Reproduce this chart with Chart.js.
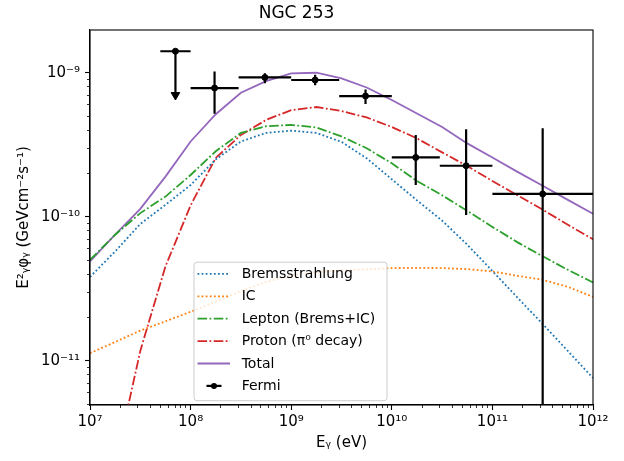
<!DOCTYPE html>
<html>
<head>
<meta charset="utf-8">
<script src="https://cdn.jsdelivr.net/npm/chart.js@4.4.1/dist/chart.umd.min.js"></script>
<style>
  body { margin: 0; background: #fff; }
  canvas { display: block; }
</style>
</head>
<body>
<canvas id="chart" width="624" height="461"></canvas>
<script>
// model curves, sampled every quarter decade
const energy = [1e7, 1.778e7, 3.162e7, 5.623e7, 1e8, 1.778e8, 3.162e8, 5.623e8, 1e9, 1.778e9, 3.162e9,
                5.623e9, 1e10, 1.778e10, 3.162e10, 5.623e10, 1e11, 1.778e11, 3.162e11, 5.623e11, 1e12];
const brems = [3.82e-11, 5.75e-11, 8.9e-11, 1.21e-10, 1.66e-10, 2.5e-10, 3.33e-10, 3.82e-10, 3.96e-10, 3.82e-10, 3.31e-10,
               2.55e-10, 1.82e-10, 1.3e-10, 9.4e-11, 6.4e-11, 4.2e-11, 2.74e-11, 1.8e-11, 1.17e-11, 7.6e-12];
const ic = [1.13e-11, 1.35e-11, 1.62e-11, 1.88e-11, 2.19e-11, 2.57e-11, 3.05e-11, 3.52e-11, 3.93e-11, 4.12e-11, 4.25e-11,
            4.31e-11, 4.4e-11, 4.42e-11, 4.4e-11, 4.33e-11, 4.17e-11, 3.89e-11, 3.65e-11, 3.26e-11, 2.78e-11];
const lepton = [5.02e-11, 7.5e-11, 1.06e-10, 1.38e-10, 1.95e-10, 2.85e-10, 3.82e-10, 4.25e-10, 4.34e-10, 4.17e-10, 3.61e-10,
                2.99e-10, 2.35e-10, 1.77e-10, 1.41e-10, 1.1e-10, 8.5e-11, 6.64e-11, 5.31e-11, 4.28e-11, 3.5e-11];
const proton = [2.5e-13, 1.9e-12, 1.17e-11, 4.52e-11, 1.2e-10, 2.56e-10, 3.7e-10, 4.7e-10, 5.5e-10, 5.78e-10, 5.42e-10,
                4.89e-10, 4.2e-10, 3.5e-10, 2.8e-10, 2.25e-10, 1.77e-10, 1.41e-10, 1.12e-10, 8.8e-11, 6.97e-11];
const total = [4.9e-11, 7.5e-11, 1.135e-10, 1.9e-10, 3.33e-10, 5.15e-10, 7.26e-10, 8.75e-10, 9.9e-10, 1.0e-9, 9.15e-10,
               7.9e-10, 6.47e-10, 5.21e-10, 4.2e-10, 3.23e-10, 2.58e-10, 2.05e-10, 1.64e-10, 1.31e-10, 1.05e-10];

// Fermi points
const fermiE = [7.07e7, 1.73e8, 5.48e8, 1.73e9, 5.48e9, 1.73e10, 5.48e10, 3.16e11];
const fermiELow = [5e7, 1e8, 3e8, 1e9, 3e9, 1e10, 3e10, 1e11];
const fermiEHigh = [1e8, 3e8, 1e9, 3e9, 1e10, 3e10, 1e11, 1e12];
const fermiFlux = [1.41e-9, 7.83e-10, 9.27e-10, 8.9e-10, 6.89e-10, 2.58e-10, 2.26e-10, 1.44e-10];
const fermiFluxLow = [7.0e-10, 5.18e-10, 8.44e-10, 8.17e-10, 6.07e-10, 1.66e-10, 1.03e-10, 1e-12];
const fermiFluxHigh = [1.41e-9, 1.02e-9, 9.9e-10, 9.7e-10, 7.66e-10, 3.7e-10, 4.05e-10, 4.11e-10];
const fermiUpperLimit = [true, false, false, false, false, false, false, false];

const seriesLabels = ['Bremsstrahlung', 'IC', 'Lepton (Brems+IC)', 'Proton (\u03c0\u2070 decay)', 'Total', 'Fermi'];

const xMajorTicks = [1e7, 1e8, 1e9, 1e10, 1e11, 1e12];
const xTickLabels = ['10\u2077', '10\u2078', '10\u2079', '10\u00b9\u2070', '10\u00b9\u00b9', '10\u00b9\u00b2'];
const yMajorTicks = [1e-11, 1e-10, 1e-9];
const yTickLabels = ['10\u207b\u00b9\u00b9', '10\u207b\u00b9\u2070', '10\u207b\u2079'];
const xMin = 1e7, xMax = 1e12;
const yMin = 4.93e-12, yMax = 1.98e-9;

function minorTicks(min, max) {
  const out = [];
  for (let e = Math.floor(Math.log10(min)); e <= Math.ceil(Math.log10(max)); e++) {
    for (let m = 2; m <= 9; m++) {
      const v = m * Math.pow(10, e);
      if (v >= min && v <= max) out.push({value: v});
    }
  }
  return out;
}

const FONT = 'DejaVu Sans';
const dotted = [1.8, 2.3];
const dashdot = [9.6, 2.4, 1.8, 2.4];

function curve(label, values, color, dash) {
  return {
    label: label,
    data: energy.map((e, i) => ({x: e, y: values[i]})),
    borderColor: color,
    borderWidth: 1.8,
    borderDash: dash,
    pointRadius: 0,
    tension: 0,
    fill: false,
    order: 2
  };
}

const xErr = [];
const yErr = [];
fermiE.forEach((e, i) => {
  xErr.push({x: fermiELow[i], y: fermiFlux[i]}, {x: fermiEHigh[i], y: fermiFlux[i]}, {x: e, y: null});
  yErr.push({x: e, y: fermiFluxLow[i]}, {x: e, y: fermiFluxHigh[i]}, {x: e, y: null});
});

const datasets = [
  curve(seriesLabels[0], brems, '#1f77b4', dotted),
  curve(seriesLabels[1], ic, '#ff7f0e', dotted),
  curve(seriesLabels[2], lepton, '#2ca02c', dashdot),
  curve(seriesLabels[3], proton, '#d62728', dashdot),
  curve(seriesLabels[4], total, '#9467bd', []),
  {label: 'xerr', data: xErr, borderColor: '#000', borderWidth: 2.2, pointRadius: 0, spanGaps: false, order: 1},
  {label: 'yerr', data: yErr, borderColor: '#000', borderWidth: 2.2, pointRadius: 0, spanGaps: false, order: 1},
  {label: seriesLabels[5], data: fermiE.map((e, i) => ({x: e, y: fermiFlux[i]})), showLine: false,
   pointRadius: 3, pointBackgroundColor: '#000', pointBorderColor: '#000', borderColor: '#000', order: 0},
  {label: 'ul', data: fermiE.map((e, i) => ({x: e, y: fermiUpperLimit[i] ? fermiFluxLow[i] : null})), showLine: false,
   pointStyle: 'triangle', rotation: 180, pointRadius: 5, pointBackgroundColor: '#000', pointBorderColor: '#000',
   pointBorderWidth: 1, order: 0}
];

const frameAndLegend = {
  id: 'frameAndLegend',
  afterDraw(chart) {
    const {ctx, chartArea: a} = chart;
    ctx.save();
    ctx.strokeStyle = '#000';
    ctx.lineWidth = 1.1;
    ctx.strokeRect(a.left, a.top, a.right - a.left, a.bottom - a.top);

    const w = 193, h = 138.5;
    const x0 = a.left + 104, y0 = a.bottom - 4.3 - h;
    ctx.beginPath();
    ctx.roundRect(x0, y0, w, h, 3);
    ctx.fillStyle = 'rgba(255,255,255,0.8)';
    ctx.fill();
    ctx.strokeStyle = '#cccccc';
    ctx.lineWidth = 1;
    ctx.stroke();

    ctx.font = '14px "' + FONT + '"';
    ctx.textBaseline = 'middle';
    ctx.textAlign = 'left';
    seriesLabels.forEach((lab, i) => {
      const y = y0 + 11.7 + i * 22.4;
      const ds = chart.data.datasets.find(d => d.label === lab);
      if (i < 5) {
        ctx.strokeStyle = ds.borderColor;
        ctx.lineWidth = ds.borderWidth;
        ctx.setLineDash(ds.borderDash);
        ctx.beginPath();
        ctx.moveTo(x0 + 3.5, y);
        ctx.lineTo(x0 + 36, y);
        ctx.stroke();
        ctx.setLineDash([]);
      } else {
        ctx.strokeStyle = '#000';
        ctx.lineWidth = 2.2;
        ctx.beginPath();
        ctx.moveTo(x0 + 12.5, y);
        ctx.lineTo(x0 + 27.5, y);
        ctx.stroke();
        ctx.beginPath();
        ctx.arc(x0 + 20, y, 3, 0, Math.PI * 2);
        ctx.fillStyle = '#000';
        ctx.fill();
      }
      ctx.fillStyle = '#000';
      ctx.fillText(lab, x0 + 47.7, y + 0.5);
    });
    ctx.restore();
  }
};

const tickFont = {family: FONT, size: 14};

new Chart(document.getElementById('chart').getContext('2d'), {
  type: 'line',
  data: {datasets: datasets},
  plugins: [frameAndLegend],
  options: {
    responsive: false,
    devicePixelRatio: 1,
    animation: false,
    layout: {padding: {top: 0, right: 31, bottom: 0, left: 0}},
    plugins: {
      legend: {display: false},
      tooltip: {enabled: false},
      title: {
        display: true,
        text: 'NGC 253',
        color: '#000',
        font: {family: FONT, size: 17, weight: 'normal'},
        padding: {top: 3, bottom: 6.6}
      }
    },
    scales: {
      x: {
        type: 'logarithmic',
        position: 'bottom',
        min: xMin,
        max: xMax,
        afterBuildTicks: s => { s.ticks = xMajorTicks.map(v => ({value: v})); },
        afterFit: s => { s.height = 56; },
        ticks: {autoSkip: false, maxRotation: 0, padding: 3, color: '#000', font: {family: FONT, size: 15},
                callback: (v, i) => xTickLabels[i]},
        grid: {drawOnChartArea: false, tickLength: 5, tickWidth: 1.1, tickColor: '#000'},
        border: {color: '#000', width: 1.1},
        title: {display: true, text: 'E\u1d67 (eV)', color: '#000', font: {family: FONT, size: 15},
                padding: {top: 0, bottom: 9}}
      },
      xMinor: {
        type: 'logarithmic',
        axis: 'x',
        position: {y: yMin},
        min: xMin,
        max: xMax,
        afterBuildTicks: s => { s.ticks = minorTicks(xMin, xMax); },
        ticks: {display: false},
        grid: {drawOnChartArea: false, tickLength: 3, tickWidth: 0.8, tickColor: '#000'},
        border: {display: false}
      },
      y: {
        type: 'logarithmic',
        position: 'left',
        min: yMin,
        max: yMax,
        afterBuildTicks: s => { s.ticks = yMajorTicks.map(v => ({value: v})); },
        afterFit: s => { s.width = 90; },
        ticks: {autoSkip: false, padding: 5, color: '#000', font: {family: FONT, size: 15},
                callback: (v, i) => yTickLabels[i]},
        grid: {drawOnChartArea: false, tickLength: 5, tickWidth: 1.1, tickColor: '#000'},
        border: {color: '#000', width: 1.1},
        title: {display: true, text: 'E\u00b2\u1d67\u03c6\u1d67 (GeVcm\u207b\u00b2s\u207b\u00b9)', color: '#000',
                font: {family: FONT, size: 15}, padding: {top: 15, bottom: 0}}
      },
      yMinor: {
        type: 'logarithmic',
        axis: 'y',
        position: {x: xMin},
        min: yMin,
        max: yMax,
        afterBuildTicks: s => { s.ticks = minorTicks(yMin, yMax); },
        ticks: {display: false},
        grid: {drawOnChartArea: false, tickLength: 3, tickWidth: 0.8, tickColor: '#000'},
        border: {display: false}
      }
    }
  }
});
</script>
</body>
</html>
